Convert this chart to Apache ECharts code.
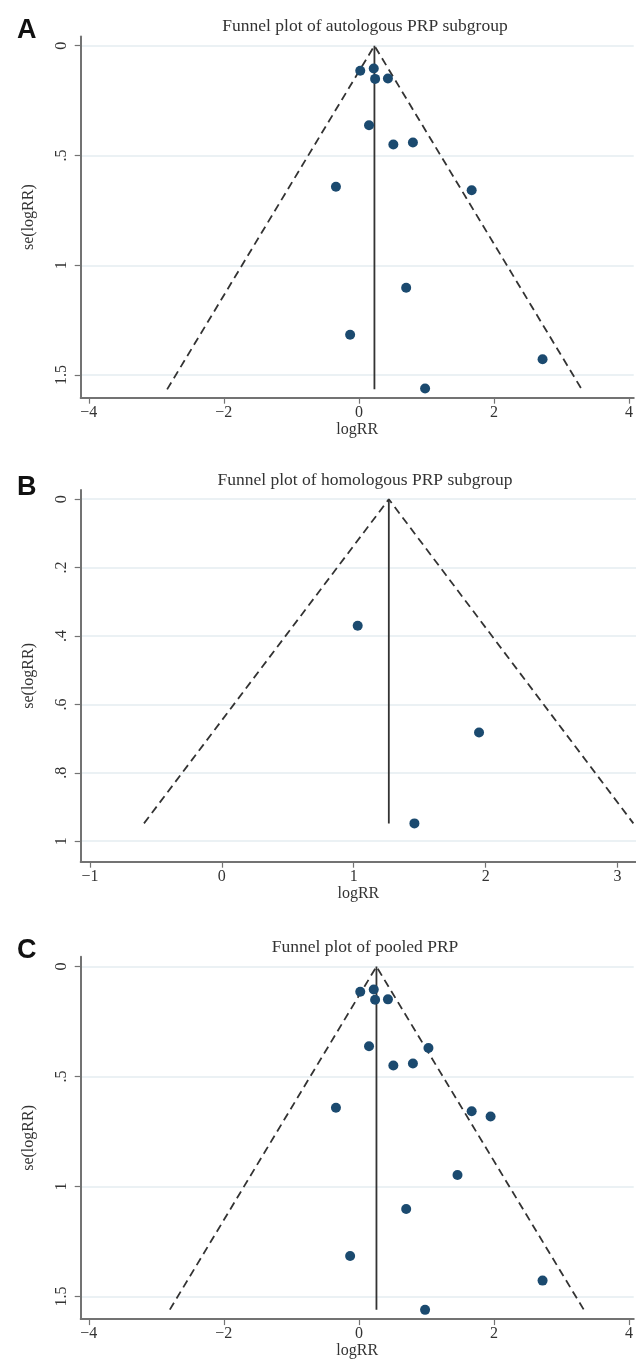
<!DOCTYPE html>
<html>
<head>
<meta charset="utf-8">
<script src="https://cdn.jsdelivr.net/npm/echarts@6/dist/echarts.min.js"></script>
<style>
  html, body { margin: 0; padding: 0; background: #fff; }
  #chart { width: 636px; height: 1360px; }
</style>
</head>
<body>
<div id="chart"></div>
<script>
// 读图得到的数据
const autoLogRR = [0.02, 0.22, 0.24, 0.43, 0.15, 0.51, 0.80, -0.34, 1.67, 0.70, -0.13, 2.72, 0.98]
const autoSe    = [0.114, 0.104, 0.151, 0.149, 0.362, 0.450, 0.441, 0.642, 0.658, 1.102, 1.316, 1.428, 1.561]
const homoLogRR = [1.03, 1.95, 1.46]
const homoSe    = [0.37, 0.682, 0.948]
const pooledLogRR = autoLogRR.concat(homoLogRR)
const pooledSe    = autoSe.concat(homoSe)

// 每个面板的合并效应和漏斗线端点
const panelTitles = ['Funnel plot of autologous PRP subgroup', 'Funnel plot of homologous PRP subgroup', 'Funnel plot of pooled PRP']
const panelLetters = ['A', 'B', 'C']
const summaryLogRR = [0.23, 1.266, 0.26]
const funnelSeMax  = [1.565, 0.948, 1.56]
const funnelLeft   = [-2.84, -0.59, -2.80]
const funnelRight  = [3.30, 3.12, 3.33]

// 刻度
const xTicks = [[-4, -2, 0, 2, 4], [-1, 0, 1, 2, 3], [-4, -2, 0, 2, 4]]
const yTicks = [[0, 0.5, 1, 1.5], [0, 0.2, 0.4, 0.6, 0.8, 1], [0, 0.5, 1, 1.5]]
const xRange = [[-4.12, 4.07], [-1.07, 3.14], [-4.12, 4.07]]
const yRange = [[-0.042, 1.603], [-0.027, 1.06], [-0.045, 1.603]]

const panelData = [
  [autoLogRR, autoSe],
  [homoLogRR, homoSe],
  [pooledLogRR, pooledSe]
]

// 布局
const grids = [
  { top: 36.5, height: 361.2 },
  { top: 490, height: 371.7 },
  { top: 956.7, height: 362.6 }
]
const titleTops = [12, 466, 933]
const letterTops = [12, 469, 932]

const serif = 'Liberation Serif'
const axisGray = '#737373'
const dotColor = '#1b4a6f'
const lineColor = '#333'

const chart = echarts.init(document.getElementById('chart'))

const fmtX = v => (v < 0 ? '\u2212' + Math.abs(v) : String(v))
const fmtY = v => String(v).replace(/^0\./, '.')

const option = {
  animation: false,
  backgroundColor: '#fff',
  title: [],
  grid: [],
  xAxis: [],
  yAxis: [],
  series: []
}

for (let i = 0; i < 3; i++) {
  option.title.push({
    text: panelTitles[i],
    left: 360,
    textAlign: 'center',
    top: titleTops[i],
    textStyle: { fontFamily: serif, fontSize: 17.5, fontWeight: 'normal', color: '#333' }
  })
  option.title.push({
    text: panelLetters[i],
    left: 12,
    top: letterTops[i],
    textStyle: { fontFamily: 'Liberation Sans', fontSize: 27, fontWeight: 'bold', color: '#111' }
  })
  option.grid.push({ left: 80.7, right: 0, top: grids[i].top, height: grids[i].height })
  option.xAxis.push({
    type: 'value',
    gridIndex: i,
    min: xRange[i][0],
    max: xRange[i][1],
    name: 'logRR',
    nameLocation: 'middle',
    nameGap: 21,
    nameTextStyle: { fontFamily: serif, fontSize: 16, color: '#333' },
    axisLine: { onZero: false, lineStyle: { color: axisGray, width: 2 } },
    axisTick: { show: true, length: 6, customValues: xTicks[i], lineStyle: { color: axisGray, width: 1.2 } },
    axisLabel: { customValues: xTicks[i], formatter: fmtX, margin: 7, fontFamily: serif, fontSize: 16, color: '#333' },
    splitLine: { show: false }
  })
  option.yAxis.push({
    type: 'value',
    gridIndex: i,
    inverse: true,
    min: yRange[i][0],
    max: yRange[i][1],
    name: 'se(logRR)',
    nameLocation: 'middle',
    nameGap: 44,
    nameTextStyle: { fontFamily: serif, fontSize: 16, color: '#333' },
    axisLine: { onZero: false, lineStyle: { color: axisGray, width: 2 } },
    axisTick: { show: true, length: 6, customValues: yTicks[i], lineStyle: { color: axisGray, width: 1.2 } },
    axisLabel: { customValues: yTicks[i], formatter: fmtY, rotate: 90, margin: 11, fontFamily: serif, fontSize: 16, color: '#333' },
    splitLine: { show: true, lineStyle: { color: '#e4ecf0', width: 1.5 } }
  })

  const c = summaryLogRR[i]
  const s = funnelSeMax[i]
  // 漏斗两条虚线
  option.series.push({
    type: 'line',
    xAxisIndex: i,
    yAxisIndex: i,
    symbol: 'none',
    silent: true,
    lineStyle: { color: lineColor, width: 1.8, type: [8, 5] },
    data: [[funnelLeft[i], s], [c, 0], [funnelRight[i], s]],
    z: 2
  })
  // 合并效应竖线
  option.series.push({
    type: 'line',
    xAxisIndex: i,
    yAxisIndex: i,
    symbol: 'none',
    silent: true,
    lineStyle: { color: lineColor, width: 1.8 },
    data: [[c, 0], [c, s]],
    z: 2
  })
  // 散点
  option.series.push({
    type: 'scatter',
    xAxisIndex: i,
    yAxisIndex: i,
    symbolSize: 10,
    itemStyle: { color: dotColor, opacity: 1 },
    data: panelData[i][0].map((x, k) => [x, panelData[i][1][k]]),
    z: 3
  })
}

chart.setOption(option)
</script>
</body>
</html>
